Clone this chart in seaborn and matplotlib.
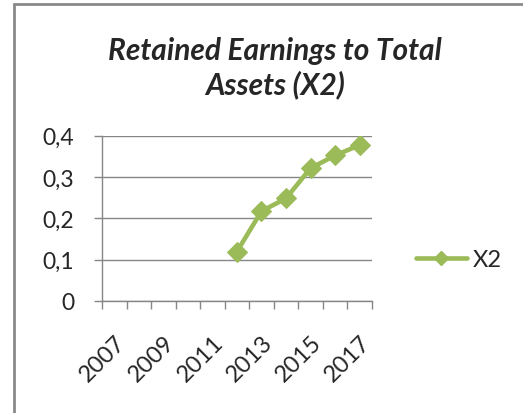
import numpy as np
import pandas as pd
import matplotlib
matplotlib.use("Agg")
import matplotlib.pyplot as plt
import seaborn as sns
from matplotlib.lines import Line2D

# Data
years = [2007, 2008, 2009, 2010, 2011, 2012, 2013, 2014, 2015, 2016, 2017]
data_years = [2012, 2013, 2014, 2015, 2016, 2017]
x2 = [0.119, 0.217, 0.248, 0.321, 0.352, 0.377]
y_ticks = [0, 0.1, 0.2, 0.3, 0.4]
y_labels = ["0", "0,1", "0,2", "0,3", "0,4"]

d = pd.DataFrame({"pos": [years.index(y) for y in data_years], "X2": x2})

sns.set_style("white")
plt.rcParams['font.family'] = ['Lato', 'DejaVu Sans']

green = "#9BBB59"
grey = "#868686"

fig = plt.figure(figsize=(5.23, 4.14), dpi=100)
ax = fig.add_axes([0.195, 0.271, 0.516, 0.399])

sns.lineplot(data=d, x="pos", y="X2", ax=ax, color=green, linewidth=3.3,
             marker="D", markersize=10.5, markeredgecolor=green, label="X2",
             legend=False)

ax.set_xlim(-0.5, len(years) - 0.5)
ax.set_ylim(0, 0.4)
ax.set_yticks(y_ticks)
ax.set_yticklabels(y_labels, fontsize=16.5)
ax.yaxis.grid(True, color=grey, linewidth=1)
ax.set_axisbelow(True)

# category boundaries as tick marks, labels every other year
ax.set_xticks(np.arange(-0.5, len(years)), minor=True)
ax.set_xticks(range(0, len(years), 2))
ax.set_xticklabels(years[::2], rotation=45, ha="right", va="top",
                   rotation_mode="anchor", fontsize=17)
ax.tick_params(axis="x", which="major", bottom=False, length=0, pad=22)
ax.tick_params(axis="x", which="minor", bottom=True, length=6, color=grey,
               width=1, direction="out")
ax.tick_params(axis="y", left=True, length=6, color=grey, width=1,
               direction="out", pad=14)

for s in ["top", "right"]:
    ax.spines[s].set_visible(False)
for s in ["left", "bottom"]:
    ax.spines[s].set_color(grey)
    ax.spines[s].set_linewidth(1)
ax.set_xlabel("")
ax.set_ylabel("")

fig.text(0.526, 0.835, "Retained Earnings to Total\nAssets (X2)", ha="center", va="center",
         fontsize=21.5, fontweight="bold", fontstyle="italic", linespacing=1.2)

handle = Line2D([], [], color=green, linewidth=3.3, marker="D", markersize=7)
fig.legend([handle], ["X2"], loc="center left", bbox_to_anchor=(0.795, 0.37),
           frameon=False, fontsize=17, handlelength=2.15, handletextpad=0.25,
           borderaxespad=0, borderpad=0)

# outer chart border (left and top edges visible)
fig.add_artist(Line2D([0.027, 0.027], [0, 0.988], transform=fig.transFigure,
                      color="#8a8a8a", linewidth=2))
fig.add_artist(Line2D([0.027, 1], [0.988, 0.988], transform=fig.transFigure,
                      color="#8a8a8a", linewidth=2))

plt.savefig("out.png", dpi=100)
